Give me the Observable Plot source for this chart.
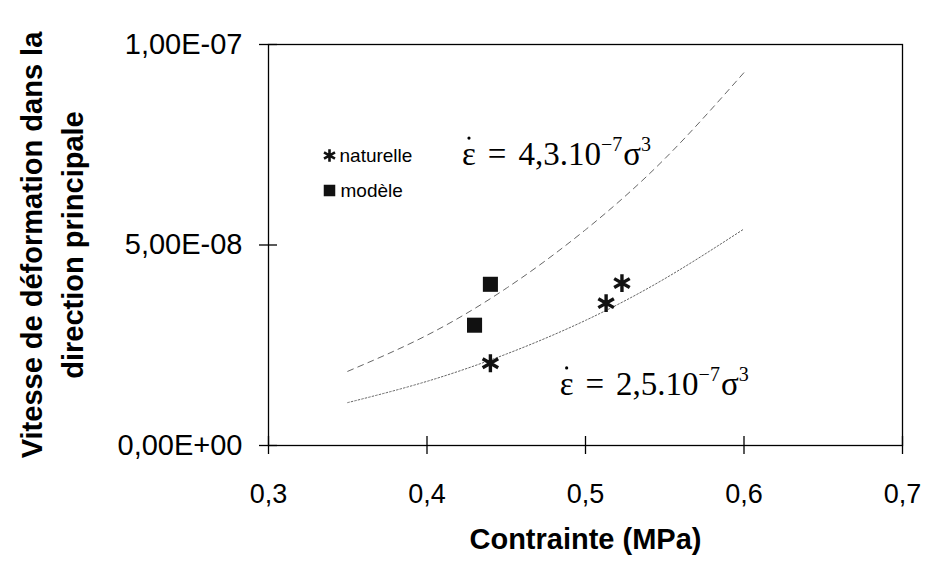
<!DOCTYPE html>
<html>
<head>
<meta charset="utf-8">
<script src="https://cdn.jsdelivr.net/npm/d3@7"></script>
<script src="https://cdn.jsdelivr.net/npm/@observablehq/plot@0.6"></script>
<style>
  html, body { margin: 0; padding: 0; background: #fff; }
  #chart { width: 929px; height: 566px; }
</style>
</head>
<body>
<div id="chart"></div>
<script>
// ---- data ----
const xTicks = [0.3, 0.4, 0.5, 0.6, 0.7];
const xTickLabels = ["0,3", "0,4", "0,5", "0,6", "0,7"];
const yTicks = [0, 5e-8, 1e-7];
const yTickLabels = ["0,00E+00", "5,00E-08", "1,00E-07"];

const naturelleX = [0.44, 0.513, 0.523];
const naturelleY = [2.05e-8, 3.55e-8, 4.05e-8];
const modeleX = [0.43, 0.44];
const modeleY = [3.0e-8, 4.02e-8];

// fitted curves as drawn
const curveSigma = [0.35, 0.40, 0.45, 0.50, 0.55, 0.60];
const curveUpper = [1.85e-8, 2.75e-8, 3.92e-8, 5.38e-8, 7.15e-8, 9.3e-8];
const curveLower = [1.07e-8, 1.6e-8, 2.28e-8, 3.12e-8, 4.16e-8, 5.4e-8];

const sans = "'Liberation Sans', Arial, Helvetica, sans-serif";
const serif = "'Liberation Serif', 'Times New Roman', serif";

const natPts = naturelleX.map((x, i) => ({x, y: naturelleY[i]}));
const modPts = modeleX.map((x, i) => ({x, y: modeleY[i]}));
const upper = curveSigma.map((x, i) => ({x, y: curveUpper[i]}));
const lower = curveSigma.map((x, i) => ({x, y: curveLower[i]}));

const plot = Plot.plot({
  width: 929,
  height: 566,
  marginLeft: 268,
  marginRight: 27,
  marginTop: 44,
  marginBottom: 121,
  style: {fontFamily: sans, background: "#fff", color: "#000"},
  x: {domain: [0.3, 0.7], axis: null},
  y: {domain: [0, 1e-7], axis: null},
  marks: [
    Plot.frame({stroke: "#000", strokeWidth: 1.3}),
    // crossing ticks (no text)
    Plot.axisX({ticks: xTicks, tickSize: 18, dy: -9, strokeWidth: 1.3, tickFormat: () => "", label: null}),
    Plot.axisY({ticks: yTicks, tickSize: 18, dx: 9, strokeWidth: 1.3, tickFormat: () => "", label: null}),
    // tick labels
    Plot.axisX({ticks: xTicks, tickSize: 0, tickPadding: 38, fontSize: 27, label: null,
      tickFormat: d => xTickLabels[xTicks.indexOf(d)]}),
    Plot.axisY({ticks: yTicks, tickSize: 0, tickPadding: 26, fontSize: 29, label: null,
      tickFormat: d => yTickLabels[yTicks.indexOf(d)]}),
    // curves
    Plot.line(upper, {x: "x", y: "y", curve: "natural", stroke: "#666", strokeWidth: 1, strokeDasharray: "6,5"}),
    Plot.line(lower, {x: "x", y: "y", curve: "natural", stroke: "#666", strokeWidth: 1, strokeDasharray: "1.6,2"}),
    // points
    Plot.dot(modPts, {x: "x", y: "y", symbol: "square", r: 8.5, fill: "#111", stroke: "none"}),
    Plot.dot(natPts, {x: "x", y: "y", symbol: "asterisk", r: 8.5, stroke: "#111", strokeWidth: 3.4}),
    // legend
    Plot.dot([0], {frameAnchor: "top-left", dx: 61, dy: 111, symbol: "asterisk", r: 6, stroke: "#111", strokeWidth: 2.6}),
    Plot.dot([0], {frameAnchor: "top-left", dx: 61, dy: 146, symbol: "square", r: 6.5, fill: "#111", stroke: "none"}),
    Plot.text(["naturelle"], {frameAnchor: "top-left", dx: 71, dy: 111, textAnchor: "start", lineAnchor: "middle", fontSize: 19, fill: "#000"}),
    Plot.text(["modèle"], {frameAnchor: "top-left", dx: 72, dy: 146, textAnchor: "start", lineAnchor: "middle", fontSize: 19, fill: "#000"}),
    // axis titles
    Plot.text(["Contrainte (MPa)"], {frameAnchor: "bottom", dy: 103, fontSize: 29, fontWeight: "bold", fill: "#000"}),
    Plot.text(["Vitesse de déformation dans la\ndirection principale"], {frameAnchor: "left", dx: -219, rotate: -90, textAnchor: "middle", lineAnchor: "middle", fontSize: 29, fontWeight: "bold", lineHeight: 1.4, fill: "#000"})
  ]
});

document.getElementById("chart").appendChild(plot);

// equations, positioned through the plot's scales
const sx = plot.scale("x"), sy = plot.scale("y");
const svg = d3.select(plot);
function equation(xv, yv, coef) {
  const px = sx.apply(xv), py = sy.apply(yv);
  const t = svg.append("text")
    .attr("x", px).attr("y", py).attr("text-anchor", "start")
    .attr("font-family", serif).attr("font-size", 33).attr("fill", "#000");
  t.append("tspan").text("ε");
  t.append("tspan").attr("dx", 12).text("=");
  t.append("tspan").attr("dx", 12).text(coef + ".10");
  t.append("tspan").attr("dy", -14).attr("font-size", 20).text("−7");
  t.append("tspan").attr("dy", 14).attr("dx", 1).text("σ");
  t.append("tspan").attr("dy", -14).attr("font-size", 20).text("3");
  svg.append("circle").attr("cx", px + 7).attr("cy", py - 27).attr("r", 1.6).attr("fill", "#000");
}
equation(0.4224, 6.98e-8, "4,3");
equation(0.484, 1.25e-8, "2,5");
</script>
</body>
</html>
